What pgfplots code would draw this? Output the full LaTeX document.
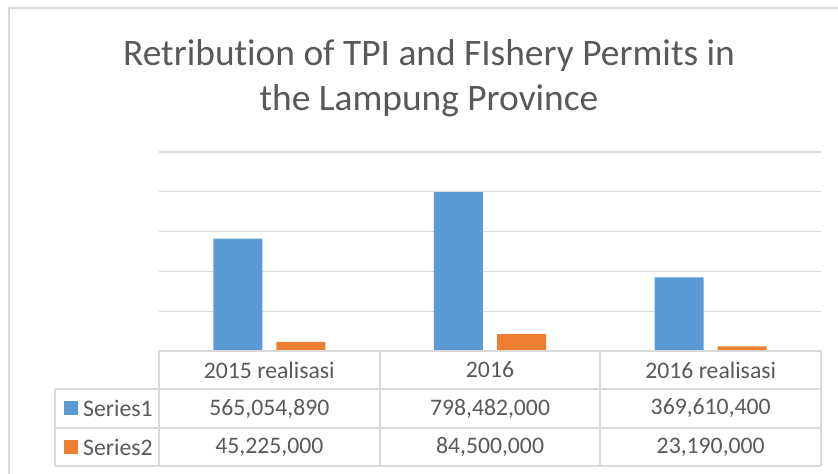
\documentclass[border=0pt]{standalone}
\usepackage{pgfplots}
\pgfplotsset{compat=1.18}
\usepackage{fontspec}
\setmainfont{Carlito}[Ligatures={NoCommon}]
\definecolor{txt}{HTML}{595959}
\definecolor{grd}{HTML}{D9D9D9}
\definecolor{s1}{HTML}{5B9BD5}
\definecolor{s2}{HTML}{ED7D31}
\begin{document}
\begin{tikzpicture}[x=1bp,y=1bp]
\useasboundingbox (0,0) rectangle (838,474);
\fill[white] (0,0) rectangle (838,474);
\draw[grd, line width=1.3bp] (9,0) -- (9,466) -- (838,466);
\node[txt, font=\fontsize{37.4bp}{45bp}\selectfont, align=center] at (429,395.5)
  {Retribution of TPI and FIshery Permits in\\the Lampung Province};
\begin{axis}[at={(159bp,123bp)}, anchor=south west, width=662bp, height=199bp,
  scale only axis, xmin=-0.5, xmax=2.5, ymin=0, ymax=1e9,
  scaled y ticks=false,
  ytick={2e8,4e8,6e8,8e8,1e9}, yticklabels={}, xtick=\empty,
  ymajorgrids, grid style={grd, line width=1.3bp},
  axis line style={draw=none}, major tick length=0, clip=false]
\addplot[ybar, bar width=0.222, bar shift=-0.143, fill=s1, draw=none]
  coordinates {(0,565054890) (1,798482000) (2,369610400)};
\addplot[ybar, bar width=0.222, bar shift=0.143, fill=s2, draw=none]
  coordinates {(0,45225000) (1,84500000) (2,23190000)};
\end{axis}
% data table
\begin{scope}[grd, line width=1.3bp]
\draw (159,123) -- (821,123);
\draw (55,85) -- (821,85);
\draw (55,46) -- (821,46);
\draw (55,8) -- (821,8);
\draw (55,85) -- (55,8);
\foreach \xx in {159,380,600,821} \draw (\xx,123) -- (\xx,8);
\end{scope}
\begin{scope}[every node/.style={txt, font=\fontsize{23.7bp}{28bp}\selectfont, inner sep=0pt}]
\node at (269.3,104) {2015 realisasi};
\node at (490,104) {2016};
\node at (710.7,104) {2016 realisasi};
\node at (269.3,65.5) {565,054,890};
\node at (490,65.5) {798,482,000};
\node at (710.7,65.5) {369,610,400};
\node at (269.3,27) {45,225,000};
\node at (490,27) {84,500,000};
\node at (710.7,27) {23,190,000};
\node[anchor=west] at (83,65.5) {Series1};
\node[anchor=west] at (83,27) {Series2};
\end{scope}
\fill[s1] (64,58.5) rectangle (78,72.5);
\fill[s2] (64,20) rectangle (78,34);
\end{tikzpicture}
\end{document}
